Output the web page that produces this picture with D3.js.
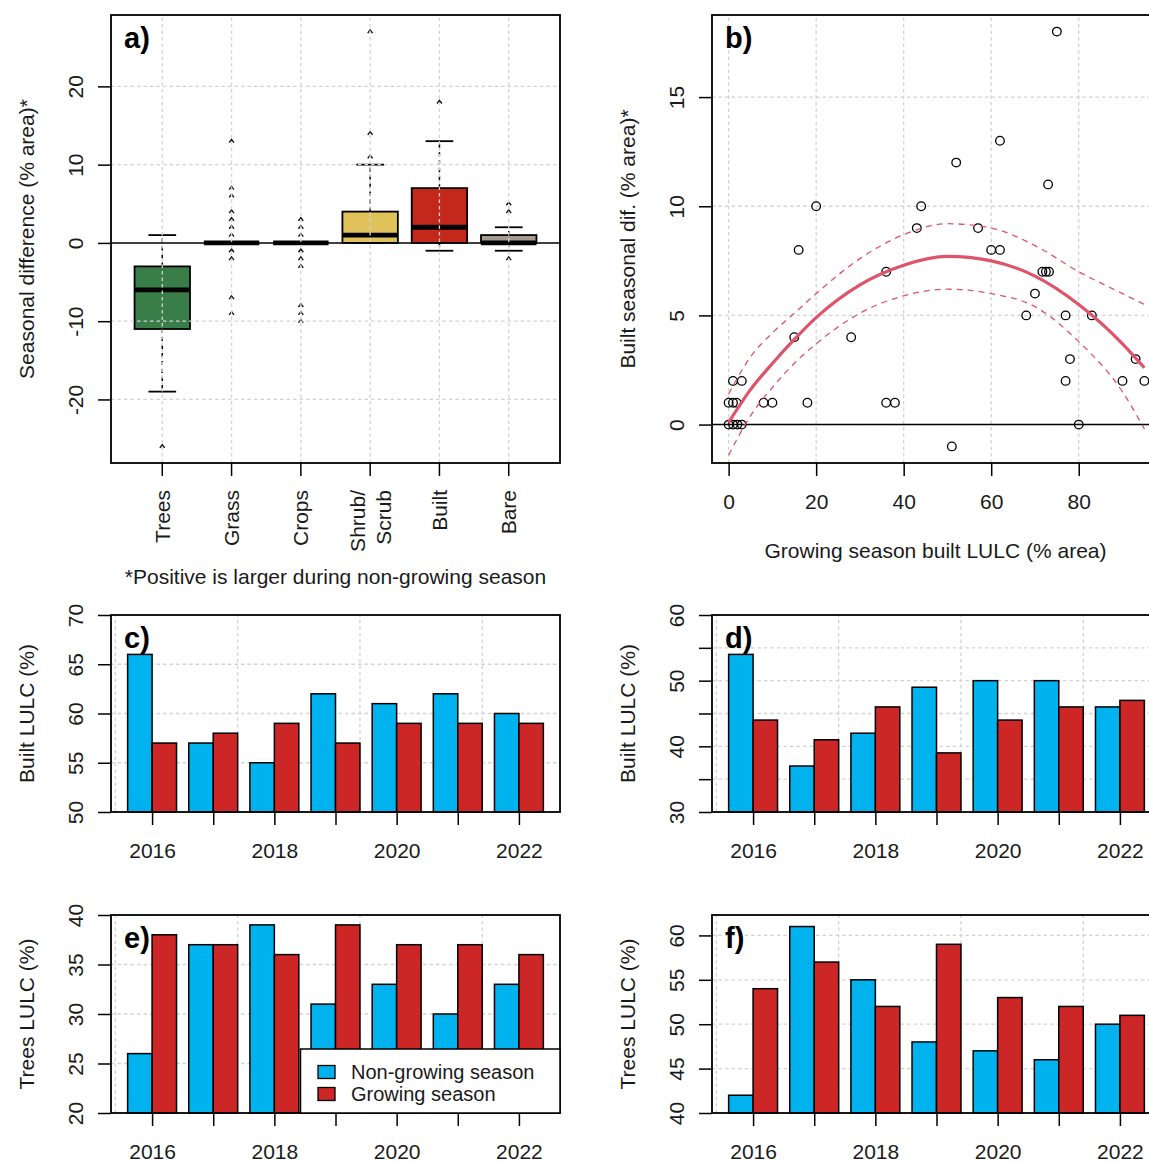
<!DOCTYPE html>
<html>
<head>
<meta charset="utf-8">
<script src="https://cdn.jsdelivr.net/npm/d3@7"></script>
<style>
body { margin: 0; background: #fff; }
svg { display: block; }
</style>
</head>
<body>
<svg id="fig" width="1149" height="1162"></svg>
<script>
// ---- data: panel a (boxplot stats of seasonal difference, % area)
const categories = ["Trees", "Grass", "Crops", "Shrub/\nScrub", "Built", "Bare"];
const boxColors = ["#397D49", "#88B053", "#E49635", "#DFC35A", "#C4281B", "#A59B8F"];
const whiskerLow = [-19, 0, 0, 0, -1, -1];
const q1 = [-11, 0, 0, 0, 0, 0];
const median = [-6, 0, 0, 1, 2, 0];
const q3 = [-3, 0, 0, 4, 7, 1];
const whiskerHigh = [1, 0, 0, 10, 13, 2];
const outliers = [[-26], [13, 7, 6, 4, 3, 2, 1, -1, -2, -7, -9], [3, 2, 1, -1, -2, -3, -8, -9, -10], [27, 14, 11], [18], [5, 4, -2]];

// ---- data: panel b (growing season built vs seasonal difference)
const builtGrow = [75, 62, 52, 73, 20, 44, 43, 57, 16, 60, 62, 36, 71.7, 72.5, 73.2, 70, 68, 77, 83, 15, 28, 78, 93, 77, 90, 95, 1, 3, 0, 1, 1.8, 8, 10, 18, 36, 38, 0, 1, 2, 3, 80, 51];
const builtDiff = [18, 13, 12, 11, 10, 10, 9, 9, 8, 8, 8, 7, 7, 7, 7, 6, 5, 5, 5, 4, 4, 3, 3, 2, 2, 2, 2, 2, 1, 1, 1, 1, 1, 1, 1, 1, 0, 0, 0, 0, 0, -1];
const fitX = [0, 5, 10, 15, 20, 30, 40, 50, 60, 70, 80, 90, 95];
const fitY = [0.1, 1.6, 2.8, 3.9, 4.9, 6.4, 7.3, 7.7, 7.5, 6.8, 5.5, 3.7, 2.6];
const fitHi = [1.4, 3.1, 4.2, 5.1, 6.0, 7.6, 8.7, 9.2, 9.0, 8.2, 7.0, 6.0, 5.5];
const fitLo = [-1.4, 0.4, 1.7, 2.8, 3.7, 5.1, 5.9, 6.2, 6.0, 5.4, 3.8, 1.5, -0.2];

// ---- data: panels c-f (yearly LULC %)
const years = [2016, 2017, 2018, 2019, 2020, 2021, 2022];
const yearLabels = [2016, 2018, 2020, 2022];
const builtNonGrowC = [66, 57, 55, 62, 61, 62, 60];
const builtGrowC = [57, 58, 59, 57, 59, 59, 59];
const builtNonGrowD = [54, 37, 42, 49, 50, 50, 46];
const builtGrowD = [44, 41, 46, 39, 44, 46, 47];
const treesNonGrowE = [26, 37, 39, 31, 33, 30, 33];
const treesGrowE = [38, 37, 36, 39, 37, 37, 36];
const treesNonGrowF = [42, 61, 55, 48, 47, 46, 50];
const treesGrowF = [54, 57, 52, 59, 53, 52, 51];
const seasonNames = ["Non-growing season", "Growing season"];
const seasonColors = ["#00B2EE", "#CD2626"];

const FONT = "'Liberation Sans', Arial, Helvetica, sans-serif";
const FS = 21;
const GRID = "#d3d3d3";

const svg = d3.select("#fig");
svg.append("rect").attr("width", 1149).attr("height", 1162).attr("fill", "#fff");

const colL = { left: 111, right: 560 }, colR = { left: 712, right: 1161 };
const rowTop = { top: 15, bottom: 463 }, rowMid = { top: 615, bottom: 812 }, rowBot = { top: 915, bottom: 1113 };

function pad4(ext) {
    const r = ext[1] - ext[0];
    return [ext[0] - 0.04 * r, ext[1] + 0.04 * r];
}

function grid(g, x, y, xs, ys) {
    const [y0, y1] = y.range(), [x0, x1] = x.range();
    g.selectAll(null).data(xs).enter().append("line")
        .attr("x1", d => x(d)).attr("x2", d => x(d)).attr("y1", y0).attr("y2", y1)
        .attr("stroke", GRID).attr("stroke-width", 1.3).attr("stroke-dasharray", "3.5,3");
    g.selectAll(null).data(ys).enter().append("line")
        .attr("y1", d => y(d)).attr("y2", d => y(d)).attr("x1", x0).attr("x2", x1)
        .attr("stroke", GRID).attr("stroke-width", 1.3).attr("stroke-dasharray", "3.5,3");
}

function frame(g, col, row) {
    g.append("rect").attr("x", col.left).attr("y", row.top)
        .attr("width", col.right - col.left).attr("height", row.bottom - row.top)
        .attr("fill", "none").attr("stroke", "#000").attr("stroke-width", 1.8);
}

function yAxis(g, y, col, ticks, labelled) {
    const ax = g.append("g").attr("transform", `translate(${col.left},0)`)
        .call(d3.axisLeft(y).tickValues(ticks).tickSize(13)
            .tickFormat(d => labelled.includes(d) ? String(d) : ""));
    ax.attr("font-family", FONT).attr("font-size", FS);
    ax.select(".domain").remove();
    ax.selectAll(".tick line").attr("stroke", "#000").attr("stroke-width", 1.5);
    ax.selectAll(".tick text").attr("x", null).attr("fill", "#1a1a1a")
        .attr("text-anchor", "middle").attr("transform", "translate(-35,0) rotate(-90)")
        .attr("dy", "0.35em");
}

function xAxis(g, x, row, ticks, fmt) {
    const ax = g.append("g").attr("transform", `translate(0,${row.bottom})`)
        .call(d3.axisBottom(x).tickValues(ticks).tickSize(13).tickFormat(fmt));
    ax.attr("font-family", FONT).attr("font-size", FS);
    ax.select(".domain").remove();
    ax.selectAll(".tick line").attr("stroke", "#000").attr("stroke-width", 1.5);
    ax.selectAll(".tick text").attr("fill", "#1a1a1a").attr("y", 39).attr("dy", "0.35em");
}

function yTitle(g, col, row, txt) {
    g.append("text").attr("transform", `translate(${col.left - 84},${(row.top + row.bottom) / 2}) rotate(-90)`)
        .attr("text-anchor", "middle").attr("dy", "0.35em")
        .attr("font-family", FONT).attr("font-size", FS).attr("fill", "#1a1a1a").text(txt);
}

function panelLabel(g, col, row, txt) {
    g.append("text").attr("x", col.left + 13).attr("y", row.top + 33)
        .attr("font-family", FONT).attr("font-size", 29).attr("font-weight", "bold")
        .attr("fill", "#000").text(txt);
}

// ================= panel a: boxplots =================
(function () {
    const g = svg.append("g");
    const idx = d3.range(1, categories.length + 1);
    const x = d3.scaleLinear().domain(pad4([0.5, categories.length + 0.5])).range([colL.left, colL.right]);
    const allVals = whiskerLow.concat(whiskerHigh, outliers.flat());
    const y = d3.scaleLinear().domain(pad4(d3.extent(allVals))).range([rowTop.bottom, rowTop.top]);
    const bw = x(0.4) - x(0), sw = x(0.2) - x(0);

    const bx = g.selectAll(null).data(idx).enter().append("g");
    // whiskers
    bx.append("line").attr("x1", i => x(i)).attr("x2", i => x(i))
        .attr("y1", i => y(q3[i - 1])).attr("y2", i => y(whiskerHigh[i - 1]))
        .attr("stroke", "#000").attr("stroke-width", 1.5).attr("stroke-dasharray", "4,4");
    bx.append("line").attr("x1", i => x(i)).attr("x2", i => x(i))
        .attr("y1", i => y(q1[i - 1])).attr("y2", i => y(whiskerLow[i - 1]))
        .attr("stroke", "#000").attr("stroke-width", 1.5).attr("stroke-dasharray", "4,4");
    // staples
    [whiskerHigh, whiskerLow].forEach(arr => {
        bx.append("line").attr("x1", i => x(i) - sw).attr("x2", i => x(i) + sw)
            .attr("y1", i => y(arr[i - 1])).attr("y2", i => y(arr[i - 1]))
            .attr("stroke", "#000").attr("stroke-width", 1.8);
    });
    // boxes
    bx.append("rect").attr("x", i => x(i) - bw).attr("width", 2 * bw)
        .attr("y", i => y(q3[i - 1])).attr("height", i => Math.max(0, y(q1[i - 1]) - y(q3[i - 1])))
        .attr("fill", i => boxColors[i - 1]).attr("stroke", "#000").attr("stroke-width", 1.8);
    // outliers
    bx.each(function (i) {
        d3.select(this).selectAll(null).data(outliers[i - 1]).enter().append("path")
            .attr("transform", v => `translate(${x(i)},${y(v)})`)
            .attr("d", "M-2.4,1.5L0,-1.7L2.4,1.5")
            .attr("fill", "none").attr("stroke", "#111").attr("stroke-width", 1.4);
    });

    grid(g, x, y, idx, [-20, -10, 10, 20]);

    // medians
    bx.append("line").attr("x1", i => x(i) - bw).attr("x2", i => x(i) + bw)
        .attr("y1", i => y(median[i - 1])).attr("y2", i => y(median[i - 1]))
        .attr("stroke", "#000").attr("stroke-width", 4.8);

    g.append("line").attr("x1", colL.left).attr("x2", colL.right)
        .attr("y1", y(0)).attr("y2", y(0)).attr("stroke", "#000").attr("stroke-width", 1.5);

    frame(g, colL, rowTop);
    yAxis(g, y, colL, [-20, -10, 0, 10, 20], [-20, -10, 0, 10, 20]);

    // category ticks and rotated labels
    g.selectAll(null).data(idx).enter().append("line")
        .attr("x1", i => x(i)).attr("x2", i => x(i)).attr("y1", rowTop.bottom).attr("y2", rowTop.bottom + 13)
        .attr("stroke", "#000").attr("stroke-width", 1.5);
    idx.forEach(i => {
        const lines = categories[i - 1].split("\n");
        lines.forEach((ln, k) => {
            const off = (k - (lines.length - 1) / 2) * 26;
            g.append("text")
                .attr("transform", `translate(${x(i) + off},${rowTop.bottom + 27}) rotate(-90)`)
                .attr("text-anchor", "end").attr("dy", "0.35em")
                .attr("font-family", FONT).attr("font-size", FS).attr("fill", "#1a1a1a").text(ln);
        });
    });
    g.append("text").attr("x", (colL.left + colL.right) / 2).attr("y", 577).attr("dy", "0.35em")
        .attr("text-anchor", "middle").attr("font-family", FONT).attr("font-size", FS).attr("fill", "#1a1a1a")
        .text("*Positive is larger during non-growing season");

    yTitle(g, colL, rowTop, "Seasonal difference (% area)*");
    panelLabel(g, colL, rowTop, "a)");
})();

// ================= panel b: scatter + fit =================
(function () {
    const g = svg.append("g");
    const x = d3.scaleLinear().domain(pad4(d3.extent(builtGrow))).range([colR.left, colR.right]);
    const y = d3.scaleLinear().domain(pad4(d3.extent(builtDiff))).range([rowTop.bottom, rowTop.top]);

    grid(g, x, y, [0, 20, 40, 60, 80], [0, 5, 10, 15]);

    g.append("line").attr("x1", colR.left).attr("x2", colR.right)
        .attr("y1", y(0)).attr("y2", y(0)).attr("stroke", "#000").attr("stroke-width", 1.5);

    g.selectAll(null).data(builtGrow).enter().append("circle")
        .attr("cx", d => x(d)).attr("cy", (d, i) => y(builtDiff[i])).attr("r", 4.3)
        .attr("fill", "none").attr("stroke", "#000").attr("stroke-width", 1.3);

    const line = d3.line().x(d => x(d[0])).y(d => y(d[1])).curve(d3.curveMonotoneX);
    g.append("path").attr("d", line(fitX.map((v, i) => [v, fitY[i]])))
        .attr("fill", "none").attr("stroke", "#DF536B").attr("stroke-width", 3.2);
    [fitHi, fitLo].forEach(arr => {
        g.append("path").attr("d", line(fitX.map((v, i) => [v, arr[i]])))
            .attr("fill", "none").attr("stroke", "#DF536B").attr("stroke-width", 1.3)
            .attr("stroke-dasharray", "6,5");
    });

    frame(g, colR, rowTop);
    yAxis(g, y, colR, [0, 5, 10, 15], [0, 5, 10, 15]);
    xAxis(g, x, rowTop, [0, 20, 40, 60, 80], d => String(d));
    g.append("text").attr("x", (colR.left + colR.right) / 2 - 1).attr("y", rowTop.bottom + 88).attr("dy", "0.35em")
        .attr("text-anchor", "middle").attr("font-family", FONT).attr("font-size", FS).attr("fill", "#1a1a1a")
        .text("Growing season built LULC (% area)");
    yTitle(g, colR, rowTop, "Built seasonal dif. (% area)*");
    panelLabel(g, colR, rowTop, "b)");
})();

// ================= panels c-f: grouped bars =================
function barPanel(col, row, nonGrow, grow, ylim, ticks, labelled, title, label, legend) {
    const g = svg.append("g");
    const space = 0.5;
    const groupW = 2 + space;
    const x = d3.scaleLinear().domain(pad4([space, years.length * groupW])).range([col.left, col.right]);
    const y = d3.scaleLinear().domain(ylim).range([row.bottom, row.top]);

    grid(g, x, y, [0, 5, 10, 15], ticks.filter(t => t > ylim[0] && t < ylim[1]));

    [nonGrow, grow].forEach((vals, s) => {
        g.selectAll(null).data(vals).enter().append("rect")
            .attr("x", (d, i) => x(space + i * groupW + s))
            .attr("width", x(1) - x(0))
            .attr("y", d => y(d)).attr("height", d => y(ylim[0]) - y(d))
            .attr("fill", seasonColors[s]).attr("stroke", "#000").attr("stroke-width", 1.5);
    });

    frame(g, col, row);
    yAxis(g, y, col, ticks, labelled);
    const centers = years.map((yr, i) => space + i * groupW + 1);
    xAxis(g, x, row, centers, d => {
        const yr = years[centers.indexOf(d)];
        return yearLabels.includes(yr) ? String(yr) : "";
    });
    yTitle(g, col, row, title);
    panelLabel(g, col, row, label);

    if (legend) {
        const lg = g.append("g");
        lg.append("rect").attr("x", 300.5).attr("y", 1049).attr("width", col.right - 300.5)
            .attr("height", row.bottom - 1049).attr("fill", "#fff").attr("stroke", "#000").attr("stroke-width", 1.5);
        seasonNames.forEach((nm, k) => {
            const cy = 1072 + k * 22;
            lg.append("rect").attr("x", 318).attr("y", cy - 6.5).attr("width", 17).attr("height", 13)
                .attr("fill", seasonColors[k]).attr("stroke", "#000").attr("stroke-width", 1.3);
            lg.append("text").attr("x", 351).attr("y", cy).attr("dy", "0.35em")
                .attr("font-family", FONT).attr("font-size", 20).attr("fill", "#1a1a1a").text(nm);
        });
    }
}

barPanel(colL, rowMid, builtNonGrowC, builtGrowC, [50, 70], [50, 55, 60, 65, 70], [50, 55, 60, 65, 70], "Built LULC (%)", "c)", false);
barPanel(colR, rowMid, builtNonGrowD, builtGrowD, [30, 60], [30, 35, 40, 45, 50, 55, 60], [30, 40, 50, 60], "Built LULC (%)", "d)", false);
barPanel(colL, rowBot, treesNonGrowE, treesGrowE, [20, 40], [20, 25, 30, 35, 40], [20, 25, 30, 35, 40], "Trees LULC (%)", "e)", true);
barPanel(colR, rowBot, treesNonGrowF, treesGrowF, [40, 62.3], [40, 45, 50, 55, 60], [40, 45, 50, 55, 60], "Trees LULC (%)", "f)", false);
</script>
</body>
</html>
